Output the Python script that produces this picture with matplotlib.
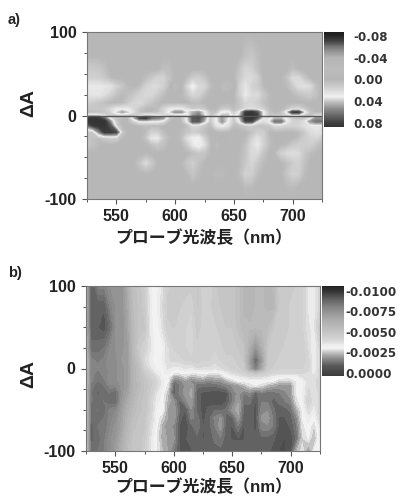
import numpy as np
import matplotlib
matplotlib.use("Agg")
import matplotlib.pyplot as plt
from matplotlib.colors import LinearSegmentedColormap, Normalize

plt.rcParams['axes.unicode_minus'] = False
W, H = 402, 497
wavelengths = list(range(525, 730, 5))

# Panel a, values in units of 0.01
a_delta = [100, 72, 55, 45, 35, 25, 15, 8, 4, 0, -3, -7, -12, -20, -27, -35, -45, -57, -70, -85, -100]
a_grid = [
[0]*41,
[0,0,0,0,0,0,0,0,0,0,0,0,0,0,0,0,0,0,0,0,0,0,0,0,0,0,0,.6,.9,.4,0,0,0,0,0,0,0,0,0,0,0],
[1.2,1.2,1,.5,0,0,0,0,0,0,0,0,0,.5,.5,0,0,0,0,0,0,0,0,0,0,0,.8,1.8,1.6,.6,0,0,0,0,0,.5,0,0,0,0,0],
[1.5,1.5,1.4,1,.2,0,0,0,0,0,.4,1,1.6,1.7,.6,0,0,.3,1.2,1.4,.8,0,0,0,0,0,1,2,2,1.4,0,0,0,0,.6,2,2,.8,0,0,0],
[2.6,2.8,2.8,2.6,2.4,1.6,.8,.2,0,.3,1.5,2,2,1.4,.2,-3,-.5,1.6,3.2,2,1.8,.4,0,-2,-3.5,-1,1.6,2.6,1.6,1.2,.2,0,0,0,.2,1,2.2,2.4,2,.5,0],
[2.4,2.6,2.6,2.2,1.4,.6,.2,.5,1,1.6,2,1.9,1.2,.4,0,0,0,.8,1.8,1.6,.6,0,0,0,-.4,0,1.4,2.8,2,2,1,.2,0,0,0,.2,.6,.9,1.2,.6,0],
[1.4,1.2,.8,.4,.1,0,.2,1,1.8,2,1.4,.8,.2,0,0,0,0,0,.3,.3,0,0,0,0,0,0,.8,1.8,1.8,1.4,.6,.2,0,0,0,0,0,0,0,0,0],
[.8,1,1,1.2,1.8,2.6,2.8,2.6,1.8,.8,.2,0,.4,1.6,2.6,2.8,2.8,2,1,1.2,.8,0,.2,1,1,.4,1,2,2.2,2,1.4,.3,0,0,.6,1.6,1.8,1,.2,0,0],
[.2,.4,.6,.8,1.6,3.4,4.6,3.6,2,.6,.3,.3,.6,1.6,3.2,5,5,3.2,4.4,5,3,.6,.6,3,3.2,1,3,8,8.5,7,3,.6,0,.4,3,8,8,3,.6,0,0],
[3,3.4,3,2,1,1.2,1.2,1,1,1.8,3,3,2.6,2,1.4,1.2,1.4,2.2,5,6,3.4,.8,2,4,4,2,4,8.6,8.6,8,3,.8,.8,1,1.4,2.4,2.4,1.2,.5,2,2],
[8,8.6,8,6,2,.6,.2,.2,4,7.5,8,6,5.6,5,1,0,.2,3,7,7.4,5,1,3,5,3.2,1,4,8.6,8.6,7,2.6,2.4,4,4,2.6,.8,.6,.8,2,5,5],
[8.6,8.6,8.6,8.6,5,.8,0,.2,1.4,3,3,3,3,2,.2,0,.2,2.4,7,7,4,.8,3,5,3,.8,3,7.5,7.5,3,2.2,3,6,6,3,1.6,1.6,2.2,5,6,6],
[6,8,8.6,8.5,7,1.4,0,0,0,.2,.4,.2,.2,0,0,0,0,.4,2,1.8,.8,.2,2.4,3,2.2,.4,.6,1.2,1.4,.8,.6,1,2,2,1.6,1.6,1.8,2.2,2.6,2.8,2.6],
[.4,1,5,8,8,7.5,.8,0,0,0,.3,1.6,1.4,.4,0,0,.3,.8,1.2,1,.4,0,0,0,0,0,0,0,.6,1.4,1.4,0,0,0,0,0,.2,1,2,2.4,2.2],
[1,.6,.4,1,1.4,1.2,.2,0,0,0,.6,2.6,2.8,1,.2,0,.4,2,3,3.2,1.4,0,0,-.2,0,0,0,.2,1.4,2.4,1.6,.4,0,0,0,0,.4,1.2,1.8,1.8,1],
[.8,.6,.2,0,0,0,0,0,0,0,0,.5,1,.6,0,0,0,1,2.6,3.4,2.2,.3,-2.5,-.6,0,0,0,.6,2,2.8,1.6,.4,0,0,.2,1,1.4,1.4,1.4,.8,.2],
[0,0,0,0,0,0,0,0,0,0,0,0,0,0,0,0,0,0,.4,.8,.8,0,0,0,0,0,.2,.8,2,2,.8,0,.2,1.4,2,2.2,2,1,.3,0,0],
[0,0,0,0,0,0,0,0,0,.8,2,1,0,0,0,0,0,.8,1.4,.6,0,0,0,0,0,0,.2,1,1.8,1,.3,0,0,0,.4,1.2,1.6,.6,0,0,0],
[0,0,0,0,0,0,0,0,0,0,0,0,0,0,0,0,0,.2,.8,.3,0,0,.3,.3,0,0,.4,1.6,1.4,.4,0,0,0,0,.8,1.6,1.4,.3,0,0,0],
[0,0,0,0,0,0,0,0,0,0,0,0,0,0,0,0,0,0,0,0,0,0,0,0,0,0,0,.4,.3,0,0,0,0,0,.2,.4,0,0,0,0,0],
[0]*41,
]

# Panel b, values in units of 0.001
b_delta = [100, 75, 50, 25, 10, 0, -5, -10, -15, -20, -30, -40, -50, -60, -70, -85, -100]
b_grid = [
[5.5,9,8,8,7.5,7.5,7.5,6.4,5.2,5,4.4,3.3,3.1,3.6,4.4,4.6,4.6,4.6,4.6,4.8,4.2,4.2,4.6,5,5,5,5.2,5.8,6,5.6,5.6,5.8,5.6,4.6,4.6,4.6,4.4,4.2,3.5,3.4,4],
[5.5,9,9,9,8,7.5,7.5,6.6,5.4,5,4.6,3.3,3.1,3.8,4.6,4.6,4.5,4.4,4.2,4.8,4.4,4.4,4.6,4.8,5,5,5.2,5.8,6,5.6,5.6,5.8,5.8,4.6,4.6,4.4,4.4,4.2,3.5,3.4,4],
[5.5,9,9,9.2,8.6,7.5,7.5,6.8,5.6,5,4.8,3.4,3.05,3.6,4.4,4.5,4.4,4.2,4,4.6,4.4,4.4,4.4,4.6,4.8,4.8,5.2,5.6,5.6,5.6,5.6,5.4,4.8,4.6,4.6,4.4,4.4,4.2,3.6,3.5,4.6],
[5.5,8.6,8.6,8.4,7.8,7.5,7.4,7,5.6,4.6,4.2,3.6,3.05,3.1,3.8,4.2,4.4,4.2,4,4.4,4.4,4.4,4.2,4.4,4.6,4.6,4.8,5,6.2,7.2,6.2,4.8,4.6,4.6,4.4,4.4,4.4,4.4,3.8,3.2,4],
[5,8,8.2,8,7.6,7.6,7.2,7,5.8,5,3.8,3.4,3.05,3.3,3.8,4,4,4.2,4.2,4.4,4.2,4.2,4,4.2,4.4,4.4,4.6,4.8,6.8,8.6,7,4.8,4.6,4.4,4.4,4.4,4.4,4.4,4,3.2,4],
[5,8,8,8,7.6,7.6,7.4,7,6,5.4,4.2,3.6,3.2,3.1,3.6,3.4,3.4,3.6,3.4,3.8,3.8,3.8,3.6,3.8,4,4.2,4.4,4.6,6.4,8,6.4,4.6,4.4,4.2,4.2,4.2,4.2,4.2,4,3.2,4],
[5,8,8.2,8,7.8,7.6,7.4,7,6,5.4,4.6,4,3.4,3.2,3.4,3,3,3.1,3,3,3.1,3,3,3,3.4,3.8,4,4.4,4.6,5,4.6,4.4,4,4,4,4,4,4,3.8,3.4,4],
[5,8,8.4,8,7.6,7.6,7.4,7,6,5.4,4.8,4.2,3.8,3.2,3.1,2.2,2.2,2.6,2.2,2.4,2.6,2.2,2.4,2.4,3,3.2,3.4,3.6,3.8,3.8,3.8,3.6,3.3,3.2,3.1,3.1,3.2,3.6,3.8,3.6,4],
[5,8,8.4,8.2,7.6,7.6,7.4,7,6,5.4,5,4.6,4,3.4,3,1.4,1.6,2,1.6,1.8,1.8,1.6,1.8,1.8,2.2,2.6,3,3.1,3.1,3.1,3.1,3.1,3,2.6,2.6,2.6,3,3.2,3.8,3.8,4],
[5,8.2,8.6,8.4,7.8,7.8,7.4,7,6,5.6,5,4.6,4,3.4,2.8,1,1.4,1.8,2,1.2,1.2,1.2,1.2,1.4,1.6,1.8,2,2.4,2.8,3,2.8,2.4,2.2,2,2,2,3,3.2,3.8,3.8,4],
[5,8.4,8.8,8.6,8.4,8.6,7.4,6.8,6,5.4,5,4.4,3.6,3.2,2.4,.9,1.5,1.9,2.1,1,.7,.7,.6,.6,.7,1.4,1.9,1.4,1.6,1,1.4,1.2,1.2,1.4,1.6,2,3,3.2,4,3.6,4],
[5,8.4,8.6,8.4,8.6,8.6,7.2,6.4,5.8,5.2,5,4.2,3.4,3.1,2.2,1.8,1,1.6,2,1,.7,.7,.6,.6,.8,1.4,2,1.2,1.2,.8,1.4,1.4,1,1.2,1.4,1.6,2.8,3.2,4.2,3.6,4],
[5,8.6,8.4,8.6,8,7.8,7,6.2,5.6,5.2,5,4.2,3.2,3.2,2,2,1.1,.8,1.7,1,.7,.9,1.1,1,1.2,1.8,2.2,1,1,.7,1.6,1.7,1.2,.9,1,1.2,2.2,3,3.8,3.4,4],
[4.8,8.6,8.6,8.4,8,7.6,6.8,6,5.4,5,4.8,4,3.2,2.6,2,2,.9,.7,1.5,1.3,.7,1,1.5,1.8,1,1,1.9,.9,1,.7,1.8,1.9,1.4,.8,.8,1,1.6,3,3.4,3,4],
[4.8,8.8,8.4,8.4,7.8,7.4,6.8,5.8,5.2,5,4.8,3.8,3.1,2.2,1.8,1.7,.8,.6,1,1.4,.8,1,1.4,1.9,.9,.8,1.4,.8,1,.7,1.6,1.7,1.4,.7,.6,.9,1.4,2.8,3.2,2.6,3.6],
[4.6,8.8,8.6,8.2,7.6,7.2,6.4,5.6,5,5,4.6,3.6,3,2.2,2,1.8,.8,.8,.9,1,.8,.9,1.2,1.4,.9,.8,.8,.8,1,.9,1,1,.9,.6,.5,.6,1.2,2.6,3,2.2,3.4],
[4.6,8.6,8.4,8.2,7.6,7,6.2,5.4,5,5,4.4,3.6,3,2.4,2,1.4,.8,.8,.8,.9,1,1,1,1,1,1,1,1,.9,1,1,1,.6,.5,.5,.6,2.3,2.8,1.8,3,3],
]

a_levels = [-0.087, -0.08, -0.07, -0.06, -0.05, -0.04, -0.02, 0.0, 0.015, 0.032, 0.042, 0.055, 0.07, 0.08, 0.0875]
a_colors = ['#1c1c1c', '#262626', '#444444', '#777777', '#989898', '#b4b4b4', '#bcbcbc', '#b6b6b6', '#cfcfcf', '#f0f0f0', '#bdbdbd', '#8a8a8a', '#5c5c5c', '#3e3e3e', '#333333']
b_levels = [-0.0004, 0.0, 0.0008, 0.0015, 0.0022, 0.0030, 0.0034, 0.0040, 0.0050, 0.0065, 0.0080, 0.0090, 0.0100, 0.0106]
b_colors = ['#3c3c3c', '#444444', '#585858', '#7f7f7f', '#ababab', '#f4f4f4', '#ececec', '#d6d6d6', '#c4c4c4', '#ababab', '#858585', '#606060', '#333333', '#222222']
a_ticks = [-0.08, -0.04, 0.0, 0.04, 0.08]
a_ticklabels = ['-0.08', '-0.04', '0.00', '0.04', '0.08']
b_ticks = [0.01, 0.0075, 0.005, 0.0025, 0.0]
b_ticklabels = ['-0.0100', '-0.0075', '-0.0050', '-0.0025', '0.0000']
x_major = [550, 600, 650, 700]
x_minor = [525, 575, 625, 675, 725]
y_major = [-100, 0, 100]
y_minor = [-75, -50, -25, 25, 50, 75]
xlabel_text = 'プローブ光波長（nm）'
ylabel_text = 'ΔA'

LATIN = 'Liberation Sans'
CJK = ['Liberation Sans', 'Noto Sans CJK JP']
GRAY = '#555555'


def px_axes(fig, x0, y0, x1, y1):
    return fig.add_axes([x0 / W, 1 - y1 / H, (x1 - x0) / W, (y1 - y0) / H])


def make_cmap(levels, colors):
    lo, hi = levels[0], levels[-1]
    return LinearSegmentedColormap.from_list(
        'c', [((v - lo) / (hi - lo), c) for v, c in zip(levels, colors)], N=256)


def style_main(ax, ylab_px, xlab_px):
    ax.set_xlim(525, 725)
    ax.set_ylim(-100, 100)
    ax.set_xticks(x_major)
    ax.set_xticks(x_minor, minor=True)
    ax.set_yticks(y_major)
    ax.set_yticks(y_minor, minor=True)
    ax.tick_params(which='major', length=3.5, width=0.8, color=GRAY, pad=4, labelcolor='#222222')
    ax.tick_params(which='minor', length=2, width=0.7, color=GRAY)
    for lab in ax.get_xticklabels() + ax.get_yticklabels():
        lab.set_fontfamily(LATIN)
        lab.set_fontweight('bold')
        lab.set_fontsize(11.5)
    for s in ax.spines.values():
        s.set_color('#777777')
        s.set_linewidth(0.8)
    fig.text(203.5 / W, 1 - xlab_px / H, xlabel_text, ha='center', va='center',
             family=CJK, fontweight='bold', fontsize=12.2, color='#222222')
    fig.text(29 / W, 1 - ylab_px / H, ylabel_text, rotation=90, ha='center', va='center',
             family=LATIN, fontweight='bold', fontsize=14, color='#222222')


def style_cbar_labels(cax):
    for lab in cax.get_yticklabels():
        lab.set_fontfamily('DejaVu Sans')
        lab.set_fontweight('bold')
        lab.set_fontsize(8.6)
        lab.set_color('#333333')


fig = plt.figure(figsize=(W / 100, H / 100), dpi=100)

# a
ax1 = px_axes(fig, 87, 32, 322, 199)
cm_a = make_cmap(a_levels, a_colors)
norm_a = Normalize(a_levels[0], a_levels[-1])
Za = np.array(a_grid) * 0.01
ax1.contourf(wavelengths, a_delta, Za, levels=np.linspace(a_levels[0], a_levels[-1], 140),
             cmap=cm_a, norm=norm_a, extend='both')
ax1.axhline(0, color='#555555', lw=1.0)
style_main(ax1, 103, 238)
cax1 = px_axes(fig, 324, 32, 344, 127)
cb1 = fig.colorbar(plt.cm.ScalarMappable(norm=norm_a, cmap=cm_a), cax=cax1)
cax1.set_ylim(a_levels[-1], a_levels[0])
cb1.set_ticks(a_ticks, labels=a_ticklabels)
cb1.outline.set_linewidth(0)
cax1.tick_params(length=0, pad=7)
style_cbar_labels(cax1)

# b
ax2 = px_axes(fig, 86, 286, 320, 451)
cm_b = make_cmap(b_levels, b_colors)
norm_b = Normalize(b_levels[0], b_levels[-1])
Zb = np.array(b_grid) * 0.001
ax2.contourf(wavelengths, b_delta, Zb, levels=np.linspace(b_levels[0], b_levels[-1], 37),
             cmap=cm_b, norm=norm_b, extend='both')
style_main(ax2, 374, 487)
cax2 = px_axes(fig, 322, 286, 344, 376)
cb2 = fig.colorbar(plt.cm.ScalarMappable(norm=norm_b, cmap=cm_b), cax=cax2)
cax2.set_ylim(b_levels[0], b_levels[-1])
cb2.set_ticks(b_ticks, labels=b_ticklabels)
cb2.outline.set_linewidth(0)
cax2.tick_params(length=0, pad=1)
style_cbar_labels(cax2)

fig.text(8 / W, 1 - 20 / H, 'a)', family=LATIN, fontweight='bold', fontsize=10.5, va='center', color='#222222')
fig.text(8 / W, 1 - 273 / H, 'b)', family=LATIN, fontweight='bold', fontsize=10.5, va='center', color='#222222')

fig.savefig('out.png', dpi=100)
